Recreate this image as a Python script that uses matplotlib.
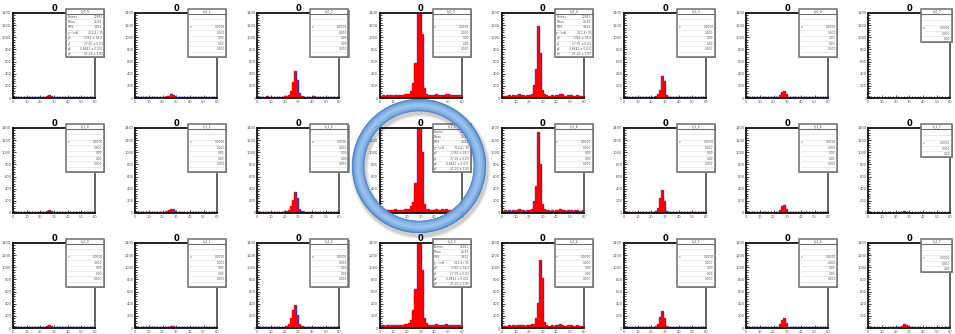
import matplotlib
matplotlib.use("Agg")
import matplotlib.pyplot as plt
from matplotlib.patches import Rectangle, Wedge
from matplotlib.ticker import MultipleLocator
import numpy as np

# ---- histogram contents (40 bins each), rows x columns ----
h00 = [12,10,14,9,11,13,10,12,15,11,9,13,12,14,16,22,34,45,38,24,15,12,11,13,10,9,12,14,11,10,13,12,9,11,10,12,13,10,11,9]
h01 = [10,12,9,11,13,10,12,11,9,14,12,10,13,12,18,26,40,58,50,30,17,13,10,12,11,9,13,10,12,11,10,12,9,13,11,10,12,9,11,10]
h02 = [18,22,16,20,25,19,17,23,21,18,24,20,22,26,30,55,120,260,445,300,90,35,24,20,22,18,21,25,19,23,20,17,22,19,24,21,18,20,23,19]
h03 = [40,45,38,52,44,48,41,55,47,43,50,46,58,62,70,120,250,580,1500,1500,1060,160,70,55,48,52,45,60,50,44,56,48,62,58,46,50,43,47,52,45]
h04 = [35,40,32,45,38,42,36,50,60,55,44,38,42,48,60,220,470,1190,740,140,60,45,40,38,44,36,42,50,65,58,40,38,45,42,36,40,44,38,35,40]
h05 = [15,18,14,20,16,19,15,17,21,18,14,19,16,20,24,38,60,140,370,280,45,22,18,16,19,15,20,17,14,18,16,19,15,17,20,16,18,15,17,14]
h06 = [10,12,9,13,11,10,12,14,10,11,13,9,12,11,15,24,50,95,110,60,22,14,11,10,12,13,9,11,10,12,14,10,11,9,12,10,11,13,10,12]
h07 = [3,2,4,3,2,3,4,2,3,3,2,4,3,2,3,4,3,2,3,4,3,2,3,3,4,2,3,2,4,3,3,2,3,4,2,3,3,2,4,3]

h10 = [11,13,10,12,9,14,11,10,13,12,10,11,14,12,16,24,36,42,33,21,14,12,10,13,11,12,9,10,13,11,12,10,14,11,9,12,10,13,11,10]
h11 = [12,10,13,11,12,9,14,12,10,11,13,12,10,14,20,32,52,70,58,34,18,12,11,13,10,12,11,9,12,13,10,11,12,10,13,11,9,12,10,11]
h12 = [16,20,18,22,17,21,19,24,18,20,22,17,21,25,30,50,110,220,350,240,70,30,22,19,21,17,23,20,18,22,19,24,17,21,20,18,22,19,17,20]
h13 = [42,48,40,55,46,50,44,58,49,45,52,48,60,64,72,110,180,500,1500,1500,1000,150,70,58,50,54,47,62,52,46,58,50,64,56,48,52,45,49,54,47]
h14 = [36,42,34,46,40,44,38,52,58,50,46,40,44,50,62,200,440,1330,800,150,62,46,42,40,46,38,44,52,60,55,42,40,46,44,38,42,46,40,37,42]
h15 = [15,17,14,19,16,18,15,20,17,16,14,18,16,19,24,40,90,240,380,200,40,21,17,16,18,15,19,17,14,18,16,19,15,17,20,16,18,15,17,14]
h16 = [11,10,12,9,13,11,10,12,11,13,10,12,11,10,14,22,55,120,140,70,24,13,11,12,10,13,11,10,12,11,13,10,12,11,10,12,11,13,10,11]
h17 = [6,5,7,6,5,6,7,5,6,6,5,7,6,5,8,12,20,28,24,14,8,6,5,6,7,5,6,5,7,6,6,5,6,7,5,6,6,5,7,6]

h20 = [11,12,10,13,11,9,12,14,10,11,13,12,10,12,15,22,38,46,36,22,14,11,12,10,13,11,10,12,11,13,9,12,10,11,13,10,12,11,10,12]
h21 = [9,10,8,11,9,10,12,9,10,11,9,10,11,9,12,16,24,30,26,17,11,9,10,11,9,10,8,11,10,9,11,10,9,10,11,9,10,8,10,9]
h22 = [17,21,18,23,16,20,19,22,18,21,23,17,20,24,30,60,160,300,380,210,60,28,21,19,22,17,22,20,18,23,19,21,17,22,20,18,21,19,18,20]
h23 = [44,46,41,54,45,49,43,57,48,46,51,47,59,63,75,140,300,650,1500,1500,950,170,75,57,49,53,46,61,51,45,57,49,63,57,47,51,44,48,53,46]
h24 = [34,40,33,44,38,42,36,48,55,52,44,38,42,48,58,60,165,410,1120,820,100,45,40,38,43,36,42,48,60,55,40,38,44,42,36,40,43,38,35,40]
h25 = [14,17,13,18,15,17,14,19,16,15,14,17,15,18,22,34,70,180,280,170,36,20,16,15,17,14,18,16,13,17,15,18,14,16,19,15,17,14,16,13]
h26 = [10,12,11,9,12,10,11,13,10,12,9,11,12,10,14,24,60,130,165,80,22,13,11,10,12,11,10,12,9,11,12,10,11,12,10,11,13,10,11,10]
h27 = [8,7,9,8,7,8,9,7,8,8,7,9,8,10,14,24,40,62,55,30,14,9,8,7,9,8,7,8,9,7,8,8,7,9,8,7,8,9,7,8]

hists = [
    [h00, h01, h02, h03, h04, h05, h06, h07],
    [h10, h11, h12, h13, h14, h15, h16, h17],
    [h20, h21, h22, h23, h24, h25, h26, h27],
]

panel_title = "0"
x_min, x_max = 0, 60
x_ticks = [0, 10, 20, 30, 40, 50, 60]
y_ticks = [0, 200, 400, 600, 800, 1000, 1200, 1400]

# panels carrying a full fit statistics box
fit_panels = {(0, 0), (0, 4), (1, 3), (2, 3)}
fit_rows = [("Entries", "12841"), ("Mean", "26.93"), ("RMS", "3.412"),
            ("\u03c7\u00b2 / ndf", "312.4 / 35"), ("p0", "1362 \u00b1 18.2"),
            ("p1", "27.05 \u00b1 0.03"), ("p2", "0.8841 \u00b1 0.021"),
            ("p3", "41.26 \u00b1 1.92")]
short_rows = [("", ""), ("", ""), ("x", "0.0000"), ("", "0.000"),
              ("", "0.00"), ("", "0.00"), ("", "0.000"), ("", "")]

FIG_W, FIG_H = 955, 334
fig = plt.figure(figsize=(FIG_W / 100, FIG_H / 100), dpi=100)
fig.patch.set_facecolor("white")

edges = np.linspace(x_min, x_max, len(h00) + 1)

AX_W, AX_H = 82, 85
COL_STEP, ROW_STEP = 122.2, 115


def ax_origin(r, c):
    return 13 + COL_STEP * c, 13 + ROW_STEP * r


for r in range(3):
    for c in range(8):
        L, T = ax_origin(r, c)
        ax = fig.add_axes([L / FIG_W, 1 - (T + AX_H) / FIG_H, AX_W / FIG_W, AX_H / FIG_H])
        ax.set_zorder(1)
        vals = hists[r][c]
        # outline first, then the red fill over it so only the outer edge stays blue
        ax.stairs(vals, edges, color="#3030d8", lw=1.0, zorder=2)
        ax.stairs(vals, edges, fill=True, color="#ff0000", zorder=3)
        ax.set_xlim(x_min, x_max)
        ax.set_ylim(0, 1400)
        ax.set_xticks(x_ticks)
        ax.set_yticks(y_ticks)
        ax.xaxis.set_minor_locator(MultipleLocator(2))
        ax.yaxis.set_minor_locator(MultipleLocator(40))
        ax.tick_params(which="both", direction="in", colors="#222222",
                       labelcolor="#555555", width=0.6)
        ax.tick_params(which="major", length=2.5, labelsize=2.6, pad=1.2)
        ax.tick_params(which="minor", length=1.3)
        for side in ("left", "top", "bottom"):
            ax.spines[side].set_color("#111111")
            ax.spines[side].set_linewidth(1.3)
            ax.spines[side].set_zorder(4)
        ax.spines["right"].set_color("#555555")
        ax.spines["right"].set_linewidth(1.3)
        ax.set_title(panel_title, fontsize=6, fontweight="bold", pad=1.5)

# statistics boxes, drawn in pixel coordinates on a transparent layer
layer = fig.add_axes([0, 0, 1, 1])
layer.set_zorder(5)
layer.set_xlim(0, FIG_W)
layer.set_ylim(FIG_H, 0)
layer.axis("off")
layer.patch.set_alpha(0)

for r in range(3):
    for c in range(8):
        L, T = ax_origin(r, c)
        bx, by = L + 53, T - 4
        bw = 30.5 if c == 7 else 38
        bh = 33 if c == 7 else 48
        layer.add_patch(Rectangle((bx + 1.2, by + 1.2), bw, bh, facecolor="#9a9a9a",
                                  edgecolor="none", zorder=1))
        layer.add_patch(Rectangle((bx, by), bw, bh, facecolor="white",
                                  edgecolor="#6e6e6e", lw=1.1, zorder=2))
        head = 5
        layer.plot([bx, bx + bw], [by + head, by + head], color="#6e6e6e", lw=0.8, zorder=3)
        layer.text(bx + bw / 2, by + head / 2 + 0.3, "h_%d_%d" % (r, c), fontsize=2.2,
                   color="#444444", ha="center", va="center", zorder=4)
        rows = fit_rows if (r, c) in fit_panels else short_rows
        if c == 7:
            rows = short_rows[:5]
        rh = (bh - head) / len(rows)
        for i, (lab, val) in enumerate(rows):
            yc = by + head + rh * (i + 0.5)
            if i > 0:
                layer.plot([bx + 1.5, bx + bw - 1.5], [by + head + rh * i] * 2,
                           color="#d8d8d8", lw=0.4, zorder=3)
            if lab:
                layer.text(bx + 1.5, yc, lab, fontsize=2.1, color="#555555",
                           ha="left", va="center", zorder=4)
            if val:
                layer.text(bx + bw - 1.5, yc, val, fontsize=2.1, color="#555555",
                           ha="right", va="center", zorder=4)

# highlight ring
ring = fig.add_axes([0, 0, 1, 1])
ring.set_zorder(20)
ring.set_xlim(0, FIG_W)
ring.set_ylim(FIG_H, 0)
ring.axis("off")
ring.patch.set_alpha(0)

cx, cy, R, W = 419, 166, 67, 12
for k, a in enumerate([0.10, 0.08, 0.06]):
    ring.add_patch(Wedge((cx + 1.5, cy + 3), R + 1 + k, 0, 360, width=W + 2 + 2 * k,
                         facecolor="#202020", edgecolor="none", alpha=a))
stops = [(0.0, (0.24, 0.45, 0.72)), (0.15, (0.42, 0.64, 0.88)),
         (0.5, (0.62, 0.78, 0.95)), (0.85, (0.48, 0.68, 0.90)),
         (1.0, (0.30, 0.52, 0.80))]
n = 48
for i in range(n):
    t = i / (n - 1)
    for j in range(len(stops) - 1):
        if stops[j][0] <= t <= stops[j + 1][0]:
            f = (t - stops[j][0]) / (stops[j + 1][0] - stops[j][0])
            col = tuple(stops[j][1][k] + f * (stops[j + 1][1][k] - stops[j][1][k]) for k in range(3))
            break
    rr = R - W * i / n
    ring.add_patch(Wedge((cx, cy), rr, 0, 360, width=W / n + 0.3,
                         facecolor=col, edgecolor="none"))

fig.savefig("out.png", dpi=100, facecolor="white")
